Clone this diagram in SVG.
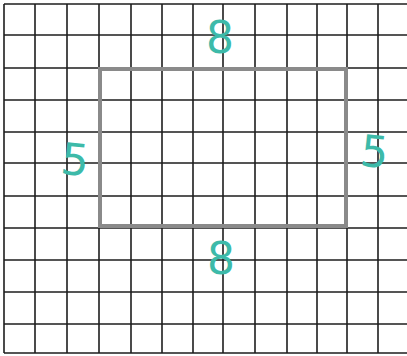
<svg xmlns="http://www.w3.org/2000/svg" width="407" height="356" viewBox="0 0 407 356">
<style>
.g{stroke:#1e1e1e;stroke-width:1.6;fill:none}
.r{stroke:#8a8a8a;stroke-width:4;fill:none}
.t{fill:#3dbaa9;font-family:"DejaVu Sans",sans-serif;font-size:44px;text-anchor:middle}
</style>
<rect width="407" height="356" fill="#fff"/>
<g id="grid" class="g">
<path d="M4 4V353M35 4V353M67 4V353M99 4V353M131 4V353M162 4V353M193 4V353M223 4V353M255 4V353M287 4V353M317 4V353M347 4V353M378 4V353"/>
<path d="M4 4H407M4 35H407M4 68H407M4 100H407M4 132H407M4 163H407M4 196H407M4 228H407M4 260H407M4 292H407M4 324H407M4 353H407"/>
</g>
<g id="rectangle">
<rect class="r" x="100" y="69" width="246" height="157"/>
</g>
<g id="labels">
<text class="t" x="220" y="53">8</text>
<text class="t" x="76" y="175" transform="rotate(6 76 150)">5</text>
<text class="t" x="375" y="167" transform="rotate(6 375 146)">5</text>
<text class="t" x="221" y="274">8</text>
</g>
</svg>
